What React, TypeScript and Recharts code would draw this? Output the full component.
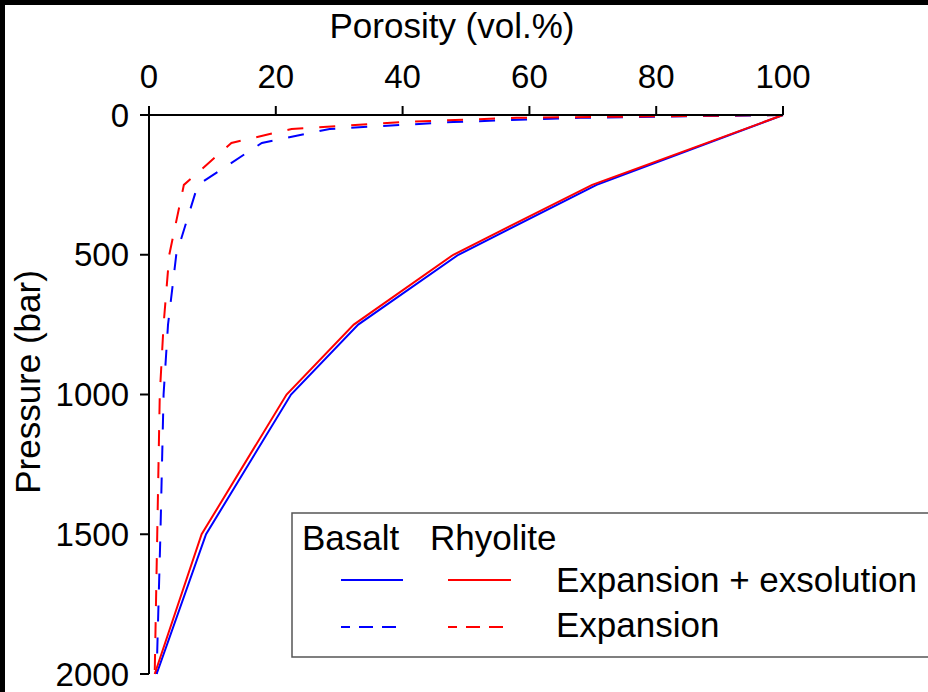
import { LineChart, Line, XAxis, YAxis } from "recharts"

const porosityTicks = [0, 20, 40, 60, 80, 100]
const pressureTicks = [0, 500, 1000, 1500, 2000]

// pressures (bar) at which the curves were computed
const pressureSolid = [0, 250, 500, 750, 1000, 1500, 2000]
const basaltSolid = [100, 70.6, 48.8, 33.0, 22.4, 9.0, 1.2]
const rhyoliteSolid = [100, 69.9, 48.0, 32.3, 21.7, 8.3, 0.9]

const pressureDashed = [0, 10, 25, 50, 100, 250, 500, 750, 1000, 1500, 2000]
const basaltDashed = [100, 68, 48, 28.5, 17.8, 7.7, 4.3, 3.0, 2.3, 1.8, 1.2]
const rhyoliteDashed = [100, 58, 40, 22.5, 13.0, 5.5, 3.2, 2.3, 1.7, 1.3, 0.9]

const toRows = (pressure: number[], porosity: number[]) =>
  pressure.map((p, i) => ({ p, por: porosity[i] }))

const BLUE = "#0000ff"
const RED = "#ff0000"
const FONT = "'Liberation Sans', Arial, sans-serif"

export default function App() {
  const tickStyle = { fill: "#000", fontSize: 33, fontFamily: FONT }

  return (
    <div style={{ position: "absolute", left: 0, top: 0, width: 928, height: 692, background: "#000", overflow: "hidden" }}>
      <div style={{ position: "absolute", left: 5, top: 5, right: 0, bottom: 0, background: "#fff" }} />
      <div style={{ position: "absolute", left: 0, top: 0 }}>
        <LineChart width={928} height={692} margin={{ top: 55, right: 145, bottom: 18, left: 49 }}>
          <XAxis
            type="number"
            dataKey="por"
            orientation="top"
            domain={[0, 100]}
            ticks={porosityTicks}
            interval={0}
            height={60}
            tickSize={9}
            tickMargin={18}
            stroke="#000"
            strokeWidth={2}
            tick={tickStyle}
          />
          <YAxis
            type="number"
            dataKey="p"
            reversed
            domain={[0, 2000]}
            ticks={pressureTicks}
            interval={0}
            width={100}
            tickSize={9}
            tickMargin={11}
            stroke="#000"
            strokeWidth={2}
            tick={tickStyle}
          />
          <Line data={toRows(pressureDashed, basaltDashed)} dataKey="p" stroke={BLUE} strokeWidth={2} strokeDasharray="16 16" dot={false} isAnimationActive={false} />
          <Line data={toRows(pressureDashed, rhyoliteDashed)} dataKey="p" stroke={RED} strokeWidth={2} strokeDasharray="16 16" dot={false} isAnimationActive={false} />
          <Line data={toRows(pressureSolid, basaltSolid)} dataKey="p" stroke={BLUE} strokeWidth={2} dot={false} isAnimationActive={false} />
          <Line data={toRows(pressureSolid, rhyoliteSolid)} dataKey="p" stroke={RED} strokeWidth={2} dot={false} isAnimationActive={false} />
        </LineChart>
      </div>
      <svg width={928} height={692} style={{ position: "absolute", left: 0, top: 0, pointerEvents: "none" }} fontFamily={FONT}>
        <text x={452} y={38} textAnchor="middle" fontSize={35} fill="#000">Porosity (vol.%)</text>
        <text x={40} y={382} textAnchor="middle" fontSize={35} fill="#000" transform="rotate(-90 40 382)">Pressure (bar)</text>
        <rect x={292} y={513} width={700} height={144} fill="#fff" stroke="#555" strokeWidth={1.5} />
        <text x={302} y={550} fontSize={35} fill="#000">Basalt</text>
        <text x={430} y={550} fontSize={35} fill="#000">Rhyolite</text>
        <line x1={341} x2={403} y1={580} y2={580} stroke={BLUE} strokeWidth={2} />
        <line x1={448} x2={511} y1={580} y2={580} stroke={RED} strokeWidth={2} />
        <line x1={341} x2={403} y1={627} y2={627} stroke={BLUE} strokeWidth={2} strokeDasharray="14 9" strokeDashoffset={5} />
        <line x1={448} x2={511} y1={627} y2={627} stroke={RED} strokeWidth={2} strokeDasharray="14 9" strokeDashoffset={5} />
        <text x={556} y={592} fontSize={35} fill="#000">Expansion + exsolution</text>
        <text x={556} y={637} fontSize={35} fill="#000">Expansion</text>
      </svg>
    </div>
  )
}
